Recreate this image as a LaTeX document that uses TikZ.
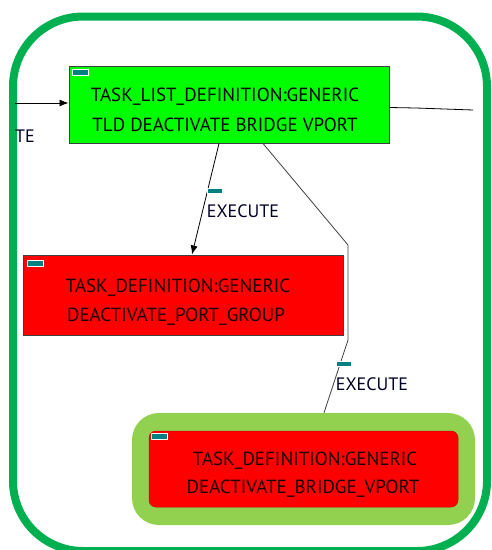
\documentclass[tikz,border=0pt]{standalone}
\usepackage{fontspec}
\setmainfont{PT Sans}
\usetikzlibrary{arrows.meta}
\definecolor{outergreen}{HTML}{00B050}
\definecolor{lightgreen}{HTML}{92D050}
\definecolor{boxgreen}{HTML}{00FF00}
\definecolor{boxred}{HTML}{FF0000}
\definecolor{iconteal}{HTML}{008080}
\definecolor{edgegray}{HTML}{404040}
\tikzset{
  box/.style={draw=edgegray, line width=1pt, inner sep=0pt},
  txt/.style={inner sep=0pt, font=\fontsize{19}{22}\selectfont, text=black!90!red},
  elabel/.style={inner sep=0pt, font=\fontsize{18}{21}\selectfont, text=black!85!blue},
  icon/.style={fill=iconteal, draw=white, line width=0.6pt, minimum width=16pt, minimum height=6pt, inner sep=0pt},
  conn/.style={black, line width=0.8pt},
  arr/.style={conn, -{Latex[length=9pt,width=7pt]}}
}
\begin{document}
\begin{tikzpicture}[x=1pt,y=-1pt]
\useasboundingbox (0,0) rectangle (491,550);
\clip (0,0) rectangle (491,550);
\fill[white] (0,0) rectangle (491,550);
% outer rounded frame
\draw[outergreen, line width=8pt, rounded corners=70pt] (13,16.5) rectangle (487,551);

% green task list node
\node[box, fill=boxgreen, minimum width=320pt, minimum height=77pt] (green) at (229,104.5) {};
\node[icon] (gicon) at (80.5,72) {};
\node[txt, text=black] (gt1) at (225,97) {TASK\_LIST\_DEFINITION:GENERIC};
\node[txt, text=black] (gt2) at (225,125) {TLD DEACTIVATE BRIDGE VPORT};

% red node 1
\node[box, fill=boxred, minimum width=320pt, minimum height=80pt] (red1) at (183,295) {};
\node[icon] (r1icon) at (35,263) {};
\node[txt] (r1t1) at (178,288) {TASK\_DEFINITION:GENERIC};
\node[txt] (r1t2) at (176,317) {DEACTIVATE\_PORT\_GROUP};

% node 3
\node[fill=lightgreen, rounded corners=27pt, minimum width=343pt, minimum height=112pt, inner sep=0pt] (n3) at (303.5,469) {};
\node[fill=boxred, draw=boxred!80!black, line width=0.5pt, rounded corners=7pt, minimum width=309pt, minimum height=76pt, inner sep=0pt] (n3in) at (303.5,469) {};
\node[icon] (n3icon) at (159.5,436) {};
\node[txt] (n3t1) at (305,461) {TASK\_DEFINITION:GENERIC};
\node[txt] (n3t2) at (303,489) {DEACTIVATE\_BRIDGE\_VPORT};

% incoming edge from left
\coordinate (inL) at (15,103);
\draw[arr] (inL) -- (green.west |- inL);
\node[elabel] (te) at (25,136) {TE};

% outgoing edge to right
\coordinate (outR) at (473,110);
\draw[conn] ([yshift=-3pt]green.east) -- (416,108) -- (outR);

% edge green -> red1
\draw[arr] ([xshift=-10pt]green.south) -- ([xshift=9pt]red1.north);
\node[icon, minimum width=15pt, minimum height=5pt] (e1icon) at (214.5,190.5) {};
\node[elabel] (e1lbl) at (243,211) {EXECUTE};

% edge green -> n3
\coordinate (bend1) at (348,245);
\coordinate (bend2) at (348,340);
\draw[conn, edgegray] ([xshift=34pt]green.south) -- (bend1) -- (bend2) -- ([xshift=20.5pt]n3.north);
\node[icon, minimum width=15pt, minimum height=5pt] (e2icon) at (343.5,363.5) {};
\node[elabel] (e2lbl) at (372,384) {EXECUTE};
\end{tikzpicture}
\end{document}
